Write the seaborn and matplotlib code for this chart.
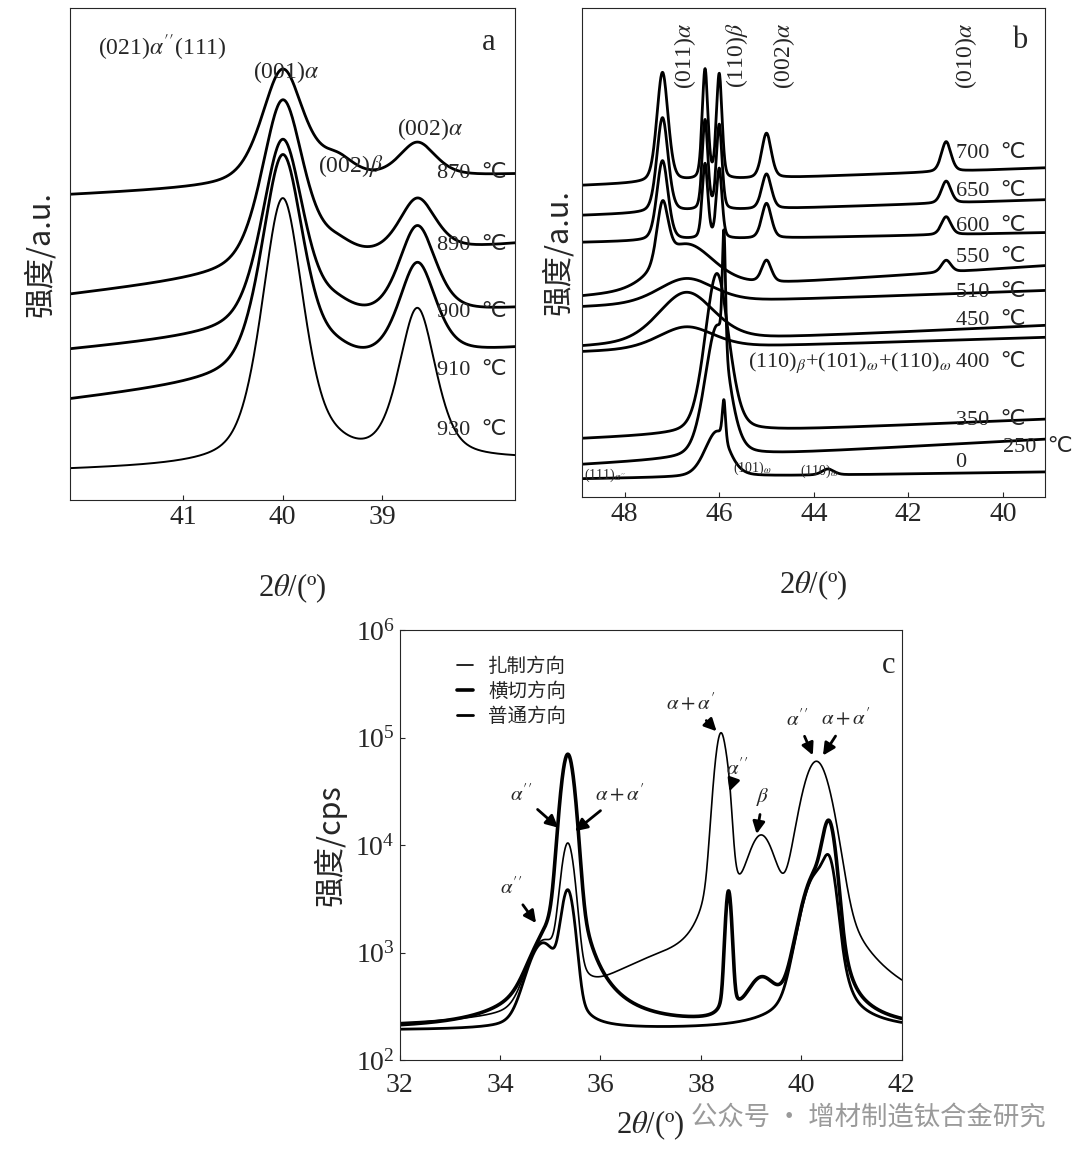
import numpy as np
import matplotlib
matplotlib.use("Agg")
import matplotlib.pyplot as plt
import seaborn as sns

sns.set_style("ticks")
plt.rcParams["font.family"] = ["Liberation Serif", "Noto Sans CJK SC", "DejaVu Sans"]
plt.rcParams["mathtext.fontset"] = "stix"
plt.rcParams["xtick.direction"] = "in"
plt.rcParams["ytick.direction"] = "in"

CJK = ["Noto Sans CJK SC", "DejaVu Sans"]

# ---------------- panel a data (intensity in arbitrary units, offset per temperature)
a_temps = ["870", "890", "900", "910", "930"]
a_base_left = [305, 205, 150, 100, 30]
a_base_right = [325, 255, 190, 150, 40]
a_peak_pos = [40.0, 39.45, 38.65]
a_peak_h = [[115, 18, 35], [170, 12, 55], [190, 10, 90], [220, 8, 95], [265, 5, 150]]
a_peak_w = [0.25, 0.2, 0.22]

# ---------------- panel b data
b_temps = ["700", "650", "600", "550", "510", "450", "400", "350", "250", "0"]
b_base_left = [312, 282, 255, 200, 190, 150, 145, 58, 32, 18]
b_base_right = [330, 298, 265, 232, 207, 172, 160, 78, 58, 25]
b_peak_pos = [47.2, 46.3, 46.0, 45.0, 41.2, 46.7, 46.05, 45.9, 43.7]
b_peak_h = [
    [110, 110, 105, 45, 30, 0, 0, 0, 0],
    [95, 90, 85, 35, 22, 0, 0, 0, 0],
    [80, 75, 70, 35, 18, 0, 0, 0, 0],
    [60, 0, 0, 22, 12, 45, 0, 0, 0],
    [0, 0, 0, 0, 0, 25, 0, 0, 0],
    [0, 0, 0, 0, 0, 50, 0, 0, 0],
    [0, 0, 0, 0, 0, 22, 0, 0, 0],
    [0, 0, 0, 0, 0, 0, 160, 0, 0],
    [0, 0, 0, 0, 0, 0, 130, 120, 0],
    [0, 0, 0, 0, 0, 0, 45, 40, 6],
]
b_peak_w = [0.14, 0.07, 0.07, 0.12, 0.12, 0.7, 0.3, 0.04, 0.15]

# ---------------- panel c data (cps)
c_names = ["扎制方向", "横切方向", "普通方向"]
c_peak_pos = [34.85, 35.35, 37.2, 38.4, 38.55, 39.2, 40.3, 40.55]
c_peak_h = [
    [900, 10000, 450, 110000, 9000, 11000, 60000, 0],
    [500, 70000, 0, 0, 3500, 300, 5000, 14000],
    [1000, 3500, 0, 0, 0, 0, 5000, 5000],
]
c_peak_w = [0.3, 0.13, 1.1, 0.12, 0.06, 0.28, 0.28, 0.13]
c_lw = [1.2, 2.6, 2.0]
c_base = 190


def profile(x, pos, heights, widths, eta=0.3):
    y = np.zeros_like(x)
    for p, h, w in zip(pos, heights, widths):
        u = (x - p) / w
        y += h * (eta / (1 + u ** 2) + (1 - eta) * np.exp(-np.log(2) * u ** 2))
    return y


fig = plt.figure(figsize=(10.8, 11.5), dpi=100)

# ---------------- panel a
ax_a = fig.add_axes([0.065, 0.565, 0.412, 0.428])
xa = np.linspace(37.67, 42.13, 900)
for i, t in enumerate(a_temps):
    base = np.interp(xa, [37.67, 42.13], [a_base_right[i], a_base_left[i]])
    y = base + profile(xa, a_peak_pos, a_peak_h[i], a_peak_w, eta=0.5)
    sns.lineplot(x=xa, y=y, ax=ax_a, color="black", lw=2.0 if i < 4 else 1.4)
ax_a.set_xlim(42.13, 37.67)
ax_a.set_ylim(0, 492)
ax_a.set_xticks([41, 40, 39])
ax_a.set_yticks([])
ax_a.tick_params(labelsize=20)
a_label_y = [322, 250, 183, 125, 65]
for t, yy in zip(a_temps, a_label_y):
    ax_a.text(38.45, yy, f"{t}  ℃", fontsize=16, family=["Liberation Serif", "DejaVu Sans"])
ax_a.text(41.85, 445, "(021)$\\alpha''$(111)", fontsize=17)
ax_a.text(40.3, 422, "(001)$\\alpha$", fontsize=17)
ax_a.text(39.65, 328, "(002)$\\beta$", fontsize=17)
ax_a.text(38.85, 365, "(002)$\\alpha$", fontsize=17)
ax_a.text(38.0, 450, "a", fontsize=22)
ax_a.set_xlabel("2$\\theta$/(º)", fontsize=22, labelpad=30)
ax_a.set_ylabel("强度/a.u.", fontsize=22, family=CJK, labelpad=10)

# ---------------- panel b
ax_b = fig.add_axes([0.539, 0.568, 0.429, 0.425])
xb = np.linspace(39, 49, 1400)
for i, t in enumerate(b_temps):
    base = np.interp(xb, [39, 49], [b_base_right[i], b_base_left[i]])
    y = base + profile(xb, b_peak_pos, b_peak_h[i], b_peak_w)
    sns.lineplot(x=xb, y=y, ax=ax_b, color="black", lw=2.0)
ax_b.set_xlim(48.9, 39.1)
ax_b.set_ylim(0, 490)
ax_b.set_xticks([48, 46, 44, 42, 40])
ax_b.set_yticks([])
ax_b.tick_params(labelsize=20)
b_label_y = [340, 302, 266, 235, 200, 172, 130, 72, 45, 30]
b_label_x = [41.0, 41.0, 41.0, 41.0, 41.0, 41.0, 41.0, 41.0, 40.0, 41.0]
for t, xx, yy in zip(b_temps, b_label_x, b_label_y):
    lab = t if t == "0" else f"{t}  ℃"
    ax_b.text(xx, yy, lab, fontsize=16, family=["Liberation Serif", "DejaVu Sans"])
for txt, xx in zip(["(011)$\\alpha$", "(110)$\\beta$", "(002)$\\alpha$", "(010)$\\alpha$"],
                   [47.0, 45.9, 44.9, 41.05]):
    ax_b.text(xx, 475, txt, fontsize=17, rotation=90, va="top")
ax_b.text(45.4, 130, "(110)$_\\beta$+(101)$_\\omega$+(110)$_\\omega$", fontsize=16)
ax_b.text(48.85, 18, "(111)$_{\\alpha''}$", fontsize=10)
ax_b.text(45.7, 25, "(101)$_\\omega$", fontsize=10)
ax_b.text(44.3, 22, "(110)$_\\omega$", fontsize=10)
ax_b.text(39.8, 450, "b", fontsize=22)
ax_b.set_xlabel("2$\\theta$/(º)", fontsize=22, labelpad=30)
ax_b.set_ylabel("强度/a.u.", fontsize=22, family=CJK, labelpad=6)

# ---------------- panel c
ax_c = fig.add_axes([0.370, 0.078, 0.465, 0.374])
xc = np.linspace(32, 42, 2000)
for i, name in enumerate(c_names):
    y = c_base + profile(xc, c_peak_pos, c_peak_h[i], c_peak_w, eta=0.2)
    sns.lineplot(x=xc, y=y, ax=ax_c, color="black", lw=c_lw[i], label=name)
ax_c.set_yscale("log")
ax_c.set_xlim(32, 42)
ax_c.set_ylim(1e2, 1e6)
ax_c.set_xticks([32, 34, 36, 38, 40, 42])
ax_c.tick_params(labelsize=20)
ax_c.tick_params(axis="x", pad=9)
ax_c.minorticks_off()
ax_c.legend(loc="upper left", bbox_to_anchor=(0.08, 0.98), frameon=False,
            prop={"family": CJK, "size": 14}, handlelength=0.8, labelspacing=0.2)
ax_c.text(41.6, 4e5, "c", fontsize=22)
arrows = [("$\\alpha+\\alpha'$", 37.3, 1.8e5, 38.35, 1.1e5),
          ("$\\alpha''$", 38.5, 4.5e4, 38.55, 3e4),
          ("$\\alpha''$", 39.7, 1.3e5, 40.25, 6.5e4),
          ("$\\alpha+\\alpha'$", 40.4, 1.3e5, 40.4, 6.5e4),
          ("$\\beta$", 39.1, 2.5e4, 39.1, 1.2e4),
          ("$\\alpha''$", 34.2, 2.6e4, 35.2, 1.4e4),
          ("$\\alpha+\\alpha'$", 35.9, 2.6e4, 35.45, 1.3e4),
          ("$\\alpha''$", 34.0, 3.5e3, 34.75, 1.8e3)]
for txt, tx, ty, px, py in arrows:
    ax_c.annotate(txt, xy=(px, py), xytext=(tx, ty), fontsize=15,
                  arrowprops=dict(arrowstyle="-|>", color="black", lw=2, mutation_scale=18))
ax_c.set_xlabel("2$\\theta$/(º)", fontsize=22, labelpad=8)
ax_c.set_ylabel("强度/cps", fontsize=22, family=CJK, labelpad=6)

fig.text(0.64, 0.021, "公众号 · 增材制造钛合金研究", fontsize=19, color="#9a9a9a", family=CJK)

fig.savefig("out.png", dpi=100)
